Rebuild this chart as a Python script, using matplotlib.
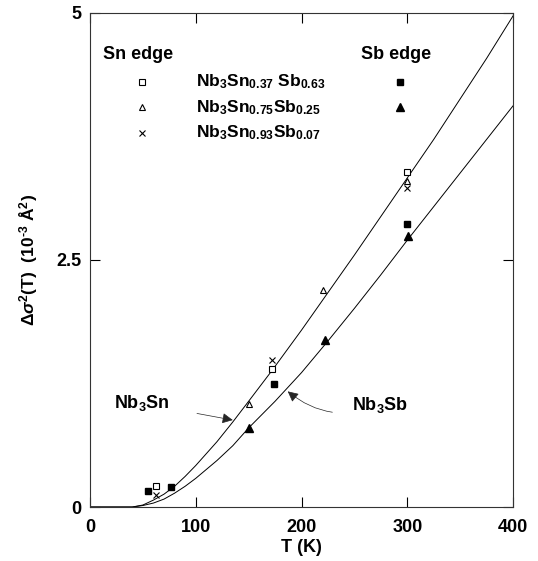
import matplotlib.pyplot as plt
import numpy as np

plt.rcParams['font.family'] = ['Liberation Sans', 'DejaVu Sans']
plt.rcParams['font.weight'] = 'bold'
plt.rcParams['mathtext.fontset'] = 'custom'
plt.rcParams['mathtext.rm'] = 'Liberation Sans:bold'
plt.rcParams['mathtext.it'] = 'Liberation Sans:bold:italic'
plt.rcParams['mathtext.bf'] = 'Liberation Sans:bold'

# Sn edge (open symbols)
T_sn037 = [62, 172, 300]
d_sn037 = [0.21, 1.40, 3.39]
T_sn075 = [150, 220, 300]
d_sn075 = [1.04, 2.20, 3.30]
T_sn093 = [62, 172, 300]
d_sn093 = [0.12, 1.49, 3.23]

# Sb edge (filled symbols)
T_sb037 = [55, 77, 174, 300]
d_sb037 = [0.16, 0.20, 1.24, 2.86]
T_sb075 = [150, 222, 301]
d_sb075 = [0.80, 1.69, 2.74]

# model curves
T_nb3sn = [0, 35, 40, 50, 60, 70, 80, 90, 100, 110, 120, 135, 150, 172, 200,
           225, 250, 275, 300, 325, 350, 375, 400]
d_nb3sn = [0, 0, 0.0, 0.02, 0.07, 0.13, 0.21, 0.31, 0.42, 0.54, 0.66, 0.86,
           1.07, 1.38, 1.79, 2.17, 2.55, 2.94, 3.33, 3.72, 4.13, 4.54, 4.97]
T_nb3sb = [0, 35, 40, 50, 60, 70, 80, 90, 100, 110, 120, 135, 150, 175, 200,
           225, 250, 275, 300, 325, 350, 375, 400]
d_nb3sb = [0, 0, 0.0, 0.015, 0.04, 0.08, 0.14, 0.21, 0.29, 0.38, 0.47, 0.62,
           0.80, 1.07, 1.36, 1.68, 2.01, 2.35, 2.70, 3.04, 3.38, 3.72, 4.06]

W, H = 538, 561
fig = plt.figure(figsize=(W / 100, H / 100), dpi=100)
ax = fig.add_axes([90 / W, 1 - 507 / H, 423 / W, 494 / H])

ax.plot(T_nb3sn, d_nb3sn, color='black', lw=0.7)
ax.plot(T_nb3sb, d_nb3sb, color='black', lw=0.7)

ax.plot(T_sn037, d_sn037, ls='none', marker='s', ms=4.5, mfc='white', mec='black', mew=0.8)
ax.plot(T_sn075, d_sn075, ls='none', marker='^', ms=4.5, mfc='white', mec='black', mew=0.8)
ax.plot(T_sn093, d_sn093, ls='none', marker='x', ms=4, color='black', mew=0.8)
ax.plot(T_sb037, d_sb037, ls='none', marker='s', ms=5, color='black')
ax.plot(T_sb075, d_sb075, ls='none', marker='^', ms=5.5, color='black')

ax.set_xlim(0, 400)
ax.set_ylim(0, 5)
ax.set_xticks([0, 100, 200, 300, 400])
ax.set_yticks([0, 2.5, 5])
ax.set_yticklabels(['0', '2.5', '5'])
ax.tick_params(direction='in', length=7, width=0.8, top=True, right=True,
               labelsize=13)
ax.tick_params(axis='x', pad=9)
ax.tick_params(axis='y', pad=6)
for s in ax.spines.values():
    s.set_linewidth(0.8)
    s.set_color('0.2')

fig.text(301.5 / W, 1 - 548 / H, 'T (K)', ha='center', va='center', fontsize=13)
fig.text(29 / W, 1 - 260 / H, r'$\Delta\sigma^2$(T)  (10$^{\text{-3}}$ Å$^2$)',
         rotation=90, ha='center', va='center', fontsize=12.5)

# legend drawn as text
ax.text(12, 4.575, 'Sn edge', fontsize=13, va='center')
ax.text(256, 4.575, 'Sb edge', fontsize=13, va='center')
rows = [4.305, 4.046, 3.789]
labels = [r'Nb$_3$Sn$_{0.37}$ Sb$_{0.63}$', r'Nb$_3$Sn$_{0.75}$Sb$_{0.25}$',
          r'Nb$_3$Sn$_{0.93}$Sb$_{0.07}$']
ax.plot(49, rows[0], marker='s', ms=4.5, mfc='white', mec='black', mew=0.8)
ax.plot(49, rows[1], marker='^', ms=4.5, mfc='white', mec='black', mew=0.8)
ax.plot(49, rows[2], marker='x', ms=4, color='black', mew=0.8)
ax.plot(293, rows[0], marker='s', ms=5, color='black')
ax.plot(293, rows[1], marker='^', ms=5.5, color='black')
for r, lab in zip(rows, labels):
    ax.text(100, r, lab, fontsize=12.5, va='center')

ax.annotate(r'Nb$_3$Sn', xy=(135, 0.88), xytext=(49, 1.05), fontsize=13,
            ha='center', va='center',
            arrowprops=dict(arrowstyle='-|>', color='0.15', lw=0.5,
                            mutation_scale=16, shrinkA=18, shrinkB=0))
ax.annotate(r'Nb$_3$Sb', xy=(187, 1.17), xytext=(274, 1.03), fontsize=13,
            ha='center', va='center',
            arrowprops=dict(arrowstyle='-|>', color='0.15', lw=0.5,
                            mutation_scale=16, shrinkA=12, shrinkB=0,
                            connectionstyle='arc3,rad=-0.3'))

fig.savefig('out.png', dpi=100)
